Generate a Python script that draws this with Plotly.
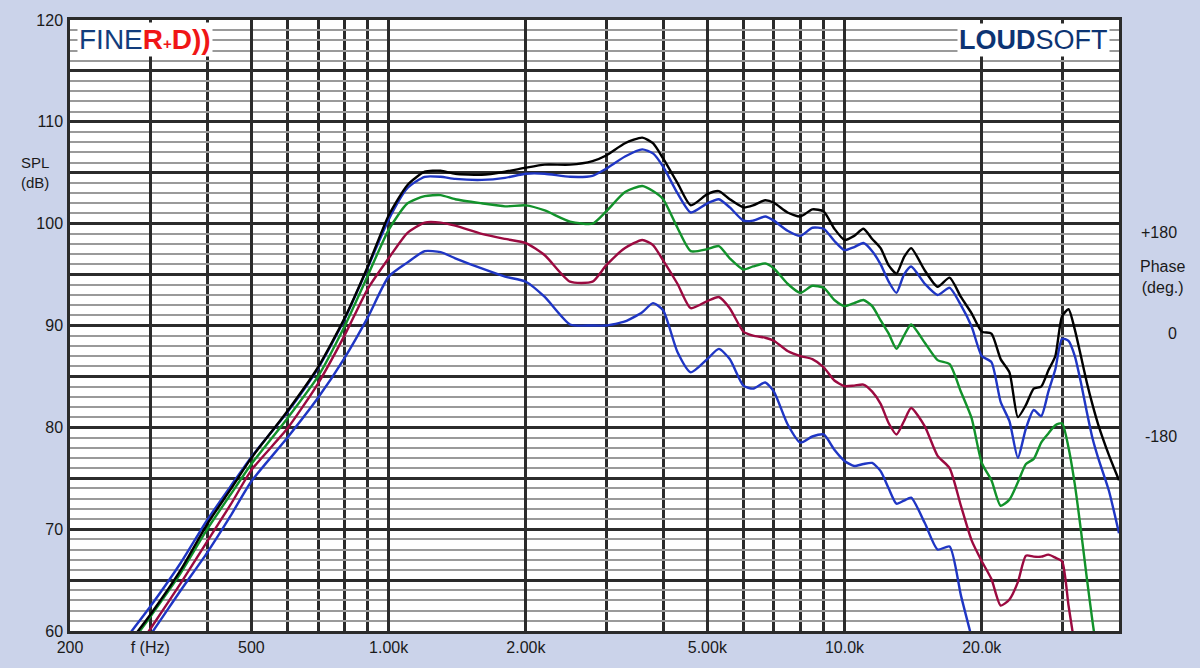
import math
import plotly.graph_objects as go

# Frequencies (Hz) common to all curves
freq = [270, 300, 350, 400, 450, 500, 600, 700, 800, 900,
        1000, 1100, 1200, 1300, 1400, 1600, 1800, 2000, 2200, 2500,
        2800, 3000, 3300, 3600, 3800, 4000, 4300, 4600, 5000, 5300,
        5600, 6000, 6300, 6700, 7000, 7500, 8000, 8500, 9000, 9500,
        10000, 10500, 11000, 11500, 12000, 12500, 13000, 13500, 14000, 15000,
        16000, 17000, 18000, 19000, 20000, 21000, 22000, 23000, 24000, 25000,
        26000, 27000, 28000, 29000, 30000, 31000, 32000, 33000, 34000, 35000,
        36000, 38000, 40000]

spl_black = [58.9, 61.6, 66.0, 70.5, 73.9, 77.0, 81.6, 85.9, 90.7, 95.8,
             100.8, 103.8, 105.1, 105.2, 104.9, 104.8, 105.1, 105.5, 105.8, 105.8,
             106.15, 106.7, 107.9, 108.45, 107.9, 106.4, 104.0, 101.8, 102.9, 103.2,
             102.4, 101.6, 101.8, 102.3, 102.05, 101.1, 100.7, 101.4, 101.2, 99.5,
             98.4, 98.8, 99.5, 98.5, 97.6, 95.9, 95.1, 96.7, 97.6, 95.4,
             93.8, 94.7, 92.8, 91.2, 89.4, 89.2, 86.7, 85.4, 81.0, 82.2,
             83.8, 84.0, 85.6, 87.0, 90.9, 91.6, 89.6, 87.0, 84.4, 82.2,
             80.3, 77.3, 74.8]

spl_blue_top = [59.7, 62.4, 66.7, 70.9, 74.2, 77.1, 81.5, 85.8, 90.6, 95.7,
                100.4, 103.5, 104.6, 104.6, 104.4, 104.3, 104.5, 104.9, 104.9, 104.6,
                104.7, 105.4, 106.6, 107.3, 106.9, 105.6, 103.0, 101.1, 102.0, 102.4,
                101.6, 100.3, 100.3, 100.7, 100.3, 99.3, 98.8, 99.6, 99.5, 98.3,
                97.4, 97.7, 98.1, 97.3, 96.0, 94.3, 93.2, 95.0, 95.8, 94.1,
                93.0, 93.7, 92.0, 89.9, 87.0, 86.4, 82.5, 80.6, 77.0, 79.9,
                81.7, 81.1, 83.5, 85.7, 88.7, 88.5, 87.0, 84.4, 81.5, 78.9,
                77.0, 73.8, 69.6]

spl_green = [58.6, 61.4, 65.7, 70.0, 73.4, 76.4, 80.9, 85.0, 89.9, 94.9,
             99.4, 102.0, 102.7, 102.8, 102.4, 102.0, 101.7, 101.8, 101.3, 100.2,
             100.0, 101.2, 103.1, 103.7, 103.2, 102.4, 99.6, 97.3, 97.5, 97.8,
             96.6, 95.5, 95.8, 96.1, 95.6, 94.1, 93.2, 93.9, 93.7, 92.5,
             91.9, 92.2, 92.5, 91.9, 90.5, 89.2, 87.7, 89.0, 90.1, 88.3,
             86.6, 86.2, 83.5, 80.9, 76.5, 74.8, 72.3, 72.9, 74.6, 76.4,
             76.9, 78.5, 79.4, 80.2, 80.4, 78.0, 74.4, 69.9, 65.2, 60.9,
             57.0, None, None]

spl_red = [57.2, 60.2, 64.7, 68.8, 72.4, 75.8, 79.9, 84.3, 89.0, 93.6,
           96.6, 99.1, 100.1, 100.1, 99.8, 99.0, 98.5, 98.1, 96.9, 94.3,
           94.3, 95.9, 97.6, 98.4, 97.9, 96.4, 94.1, 91.7, 92.4, 92.8,
           91.7, 89.4, 89.0, 88.8, 88.5, 87.5, 87.0, 86.7, 85.9, 84.6,
           84.05, 84.1, 84.2, 83.5, 82.3, 80.4, 79.3, 80.6, 81.9, 80.1,
           77.2, 76.0, 72.3, 68.9, 66.85, 65.1, 62.5, 63.1, 64.8, 67.4,
           67.3, 67.3, 67.5, 67.2, 66.85, 62.5, 58.5, None, None, None,
           None, None, None]

spl_blue_low = [56.8, 59.6, 64.0, 67.7, 71.3, 74.7, 79.0, 82.9, 86.8, 90.8,
                94.8, 96.2, 97.3, 97.2, 96.6, 95.6, 94.8, 94.3, 92.8, 90.1,
                90.0, 90.0, 90.4, 91.3, 92.2, 91.5, 87.4, 85.4, 86.7, 87.7,
                86.7, 84.1, 83.8, 84.4, 83.5, 80.3, 78.5, 79.1, 79.3, 77.8,
                76.7, 76.2, 76.4, 76.5, 75.7, 74.0, 72.5, 72.8, 73.1, 70.6,
                68.0, 68.3, 63.5, 59.4, None, None, None, None, None, None,
                None, None, None, None, None, None, None, None, None, None,
                None, None, None]

x_tick_vals = [200, 300, 500, 1000, 2000, 5000, 10000, 20000]
x_tick_text = ["200", "f (Hz)", "500", "1.00k", "2.00k", "5.00k", "10.0k", "20.0k"]
x_grid_minor = [400, 600, 700, 800, 900, 3000, 4000, 6000, 7000, 8000, 9000, 30000]
y_tick_vals = [60, 65, 70, 75, 80, 85, 90, 95, 100, 105, 110, 115, 120]
y_tick_text = ["60", "", "70", "", "80", "", "90", "", "100", "", "110", "", "120"]

series = [
    ("blue low", spl_blue_low, "#1f36c4"),
    ("red", spl_red, "#9b0a40"),
    ("green", spl_green, "#12922b"),
    ("blue top", spl_blue_top, "#1f36c4"),
    ("black", spl_black, "#000000"),
]

FONT = "Liberation Sans, Arial, sans-serif"
DARK = "#2b2b2b"
BG = "#cbd3ea"

fig = go.Figure()
for name, vals, color in series:
    fig.add_trace(go.Scatter(
        x=freq, y=vals, mode="lines", name=name,
        line=dict(color=color, width=2.4, shape="spline", smoothing=0.6),
        connectgaps=False, showlegend=False, hoverinfo="skip",
    ))

fig.update_layout(
    width=1200, height=668,
    margin=dict(l=70, r=81, t=20, b=29),
    paper_bgcolor=BG,
    plot_bgcolor="white",
    font=dict(family=FONT, size=16, color="#1a1a1a"),
    xaxis=dict(
        type="log", range=[math.log10(200), math.log10(40000)],
        tickmode="array", tickvals=x_tick_vals, ticktext=x_tick_text,
        showgrid=True, gridcolor=DARK, gridwidth=2.5,
        minor=dict(tickmode="array", tickvals=x_grid_minor, showgrid=True,
                   gridcolor=DARK, gridwidth=2.5, ticks=""),
        ticks="", showline=True, linecolor=DARK, linewidth=2.5, mirror=True,
        zeroline=False, tickfont=dict(family=FONT, size=16, color="#1a1a1a"),
    ),
    yaxis=dict(
        range=[60, 120], tickmode="array", tickvals=y_tick_vals, ticktext=y_tick_text,
        showgrid=True, gridcolor=DARK, gridwidth=2.5,
        minor=dict(tickmode="linear", tick0=60, dtick=1, showgrid=True,
                   gridcolor="#9a9a9a", gridwidth=2, ticks=""),
        ticks="", showline=True, linecolor=DARK, linewidth=2.5, mirror=True,
        zeroline=False, ticklabelstandoff=1,
        tickfont=dict(family=FONT, size=16, color="#1a1a1a"),
    ),
)

annotations = [
    dict(x=0.0067, y=0.968, xanchor="left", yanchor="middle",
         text='<span style="color:#123c7c">FINE</span><b style="color:#f01616">R<span style="font-size:15px">+</span>D))</b>',
         font=dict(family=FONT, size=28), bgcolor="white", borderpad=1, showarrow=False),
    dict(x=0.991, y=0.968, xanchor="right", yanchor="middle",
         text='<b>LOUD</b>SOFT',
         font=dict(family=FONT, size=27, color="#0d3473"), bgcolor="white", borderpad=1, showarrow=False),
    dict(x=-0.033, y=0.7496, xanchor="center", yanchor="middle",
         text="SPL<br>(dB)", font=dict(family=FONT, size=15, color="#1a1a1a"), showarrow=False),
    dict(x=1.0572, y=0.6527, xanchor="right", yanchor="middle",
         text="+180", font=dict(family=FONT, size=16, color="#1a1a1a"), showarrow=False),
    dict(x=1.041, y=0.58, xanchor="center", yanchor="middle",
         text="Phase<br>(deg.)", font=dict(family=FONT, size=16, color="#1a1a1a"), showarrow=False),
    dict(x=1.0572, y=0.4863, xanchor="right", yanchor="middle",
         text="0", font=dict(family=FONT, size=16, color="#1a1a1a"), showarrow=False),
    dict(x=1.0572, y=0.3187, xanchor="right", yanchor="middle",
         text="-180", font=dict(family=FONT, size=16, color="#1a1a1a"), showarrow=False),
]
for a in annotations:
    a.setdefault("xref", "paper")
    a.setdefault("yref", "paper")
fig.update_layout(annotations=annotations)

fig.write_html(
    "out.html",
    config={"displayModeBar": False},
    post_script="document.body.style.margin='0';document.body.style.background='" + BG + "';",
)
